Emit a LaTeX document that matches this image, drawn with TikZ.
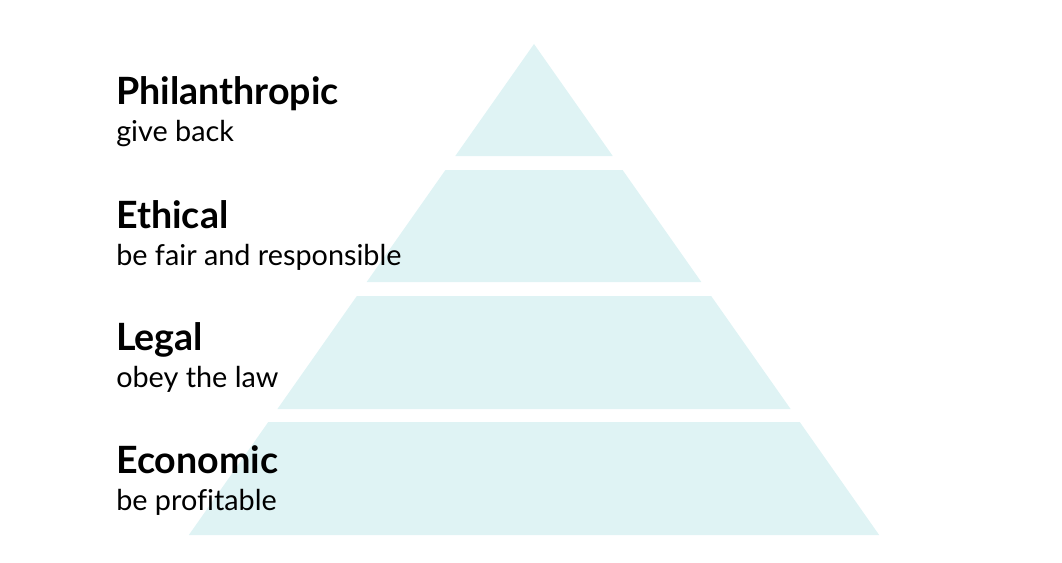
\documentclass[tikz,border=0pt]{standalone}
\usepackage{fontspec}
\setmainfont[Ligatures=NoCommon]{Lato}
\usepackage{xcolor}
\usetikzlibrary{positioning}
\definecolor{bandcyan}{HTML}{DFF3F4}
\tikzset{%
	band/.style     = {fill=bandcyan, draw=none}, % pyramid layer
	title/.style    = {anchor=base west, inner sep=0pt, font=\fontsize{28.2}{32}\selectfont\bfseries}, % layer name
	subtitle/.style = {anchor=base west, inner sep=0pt, font=\fontsize{21.6}{26}\selectfont}, % layer duty
}

\begin{document}
\begin{tikzpicture}[x=0.75pt,y=-0.75pt]
	\useasboundingbox (0,0) rectangle (1062,563);
	% layers, top to bottom
	\foreach \t/\b in {44/156,170/282,296/409,422/535}
		\fill[band] ({534-0.703*(\t-44)},\t) -- ({534+0.703*(\t-44)},\t) -- ({534+0.703*(\b-44)},\b) -- ({534-0.703*(\b-44)},\b) -- cycle;
	
	\node [title] (phil) at (116,105) {Philanthropic};
	\node [subtitle] (philsub) at (116,142) {give back};
	\node [title] (eth) at (116,228) {Ethical};
	\node [subtitle] (ethsub) at (116,265) {be fair and responsible};
	\node [title] (leg) at (116,350) {Legal};
	\node [subtitle] (legsub) at (116,387) {obey the law};
	\node [title] (eco) at (116,473) {Economic};
	\node [subtitle] (ecosub) at (116,510) {be profitable};
\end{tikzpicture}
\end{document}
